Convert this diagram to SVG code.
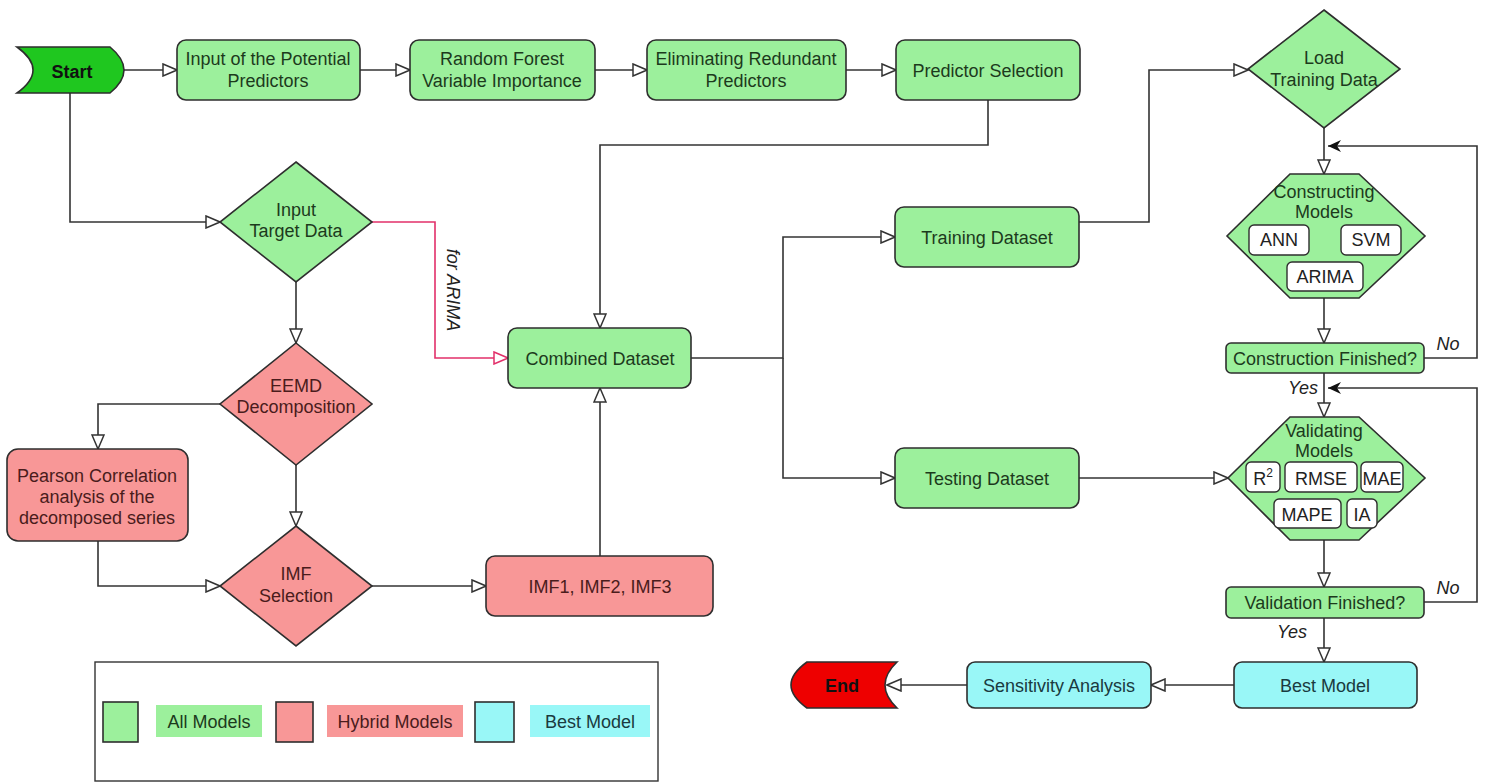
<svg xmlns="http://www.w3.org/2000/svg" width="1487" height="784" viewBox="0 0 1487 784">
<style>
  text { font-family: "Liberation Sans", Arial, sans-serif; font-size: 18px; text-anchor: middle; }
  .g { fill: #9cf09c; stroke: #2e2e2e; stroke-width: 1.6; }
  .r { fill: #f89797; stroke: #2e2e2e; stroke-width: 1.6; }
  .c { fill: #99f7f7; stroke: #2e2e2e; stroke-width: 1.6; }
  .w { fill: #ffffff; stroke: #2e2e2e; stroke-width: 1.4; }
  .tg { fill: #1c3a1c; }
  .tr { fill: #4a1c1c; }
  .tc { fill: #1a3a40; }
  .tk { fill: #222222; }
  .it { font-style: italic; fill: #222222; }
  .bold { font-weight: bold; fill: #111111; }
  .conn { fill: none; stroke: #333333; stroke-width: 1.6; }
  .red { fill: none; stroke: #e2306a; stroke-width: 1.6; }
</style>
<defs>
  <marker id="open" markerUnits="userSpaceOnUse" markerWidth="16" markerHeight="14" refX="15" refY="7" orient="auto">
    <path d="M1,1 L15,7 L1,13 Z" fill="#ffffff" stroke="#333333" stroke-width="1.5"/>
  </marker>
  <marker id="openred" markerUnits="userSpaceOnUse" markerWidth="16" markerHeight="14" refX="15" refY="7" orient="auto">
    <path d="M1,1 L15,7 L1,13 Z" fill="#ffffff" stroke="#e2306a" stroke-width="1.5"/>
  </marker>
  <marker id="filled" markerUnits="userSpaceOnUse" markerWidth="14" markerHeight="12" refX="13" refY="6" orient="auto">
    <path d="M0,0 L13,6 L0,12 L4,6 Z" fill="#111111"/>
  </marker>
</defs>
<rect width="1487" height="784" fill="#ffffff"/>

<g id="connectors">
  <path class="conn" d="M124,70 H177" marker-end="url(#open)"/>
  <path class="conn" d="M360,70 H410" marker-end="url(#open)"/>
  <path class="conn" d="M595,70 H647" marker-end="url(#open)"/>
  <path class="conn" d="M846,70 H896" marker-end="url(#open)"/>
  <path class="conn" d="M988,100 V145 H600 V328" marker-end="url(#open)"/>
  <path class="conn" d="M70,92 V222 H220" marker-end="url(#open)"/>
  <path class="red" d="M372,222 H435 V358 H508" marker-end="url(#openred)"/>
  <path class="conn" d="M296,282 V343" marker-end="url(#open)"/>
  <path class="conn" d="M220,404 H98 V449" marker-end="url(#open)"/>
  <path class="conn" d="M296,465 V526" marker-end="url(#open)"/>
  <path class="conn" d="M98,541 V586 H220" marker-end="url(#open)"/>
  <path class="conn" d="M372,586 H486" marker-end="url(#open)"/>
  <path class="conn" d="M600,556 V388" marker-end="url(#open)"/>
  <path class="conn" d="M691,358 H783 V237 H895" marker-end="url(#open)"/>
  <path class="conn" d="M783,358 V478 H895" marker-end="url(#open)"/>
  <path class="conn" d="M1079,222 H1149 V70 H1248" marker-end="url(#open)"/>
  <path class="conn" d="M1324,128 V174" marker-end="url(#open)"/>
  <path class="conn" d="M1324,298 V343" marker-end="url(#open)"/>
  <path class="conn" d="M1424,358 H1477 V146 H1328" marker-end="url(#filled)"/>
  <path class="conn" d="M1324,373 V417" marker-end="url(#open)"/>
  <path class="conn" d="M1079,478 H1228" marker-end="url(#open)"/>
  <path class="conn" d="M1324,540 V587" marker-end="url(#open)"/>
  <path class="conn" d="M1424,602 H1477 V388 H1328" marker-end="url(#filled)"/>
  <path class="conn" d="M1324,618 V662" marker-end="url(#open)"/>
  <path class="conn" d="M1234,685 H1151" marker-end="url(#open)"/>
  <path class="conn" d="M967,685 H887" marker-end="url(#open)"/>
  <text class="it" transform="translate(447,290) rotate(90)">for ARIMA</text>
  <text class="it" x="1303" y="394">Yes</text>
  <text class="it" x="1448" y="350">No</text>
  <text class="it" x="1448" y="594">No</text>
  <text class="it" x="1292" y="638">Yes</text>
</g>

<g id="start">
  <path d="M17,47 H110 Q138,70 110,93 H17 Q49,70 17,47 Z" fill="#1fc71f" stroke="#2e2e2e" stroke-width="1.6"/>
  <text class="bold" x="72" y="78">Start</text>
</g>
<g id="input-predictors">
  <rect class="g" x="177" y="40" width="183" height="60" rx="9"/>
  <text class="tg" x="268" y="65">Input of the Potential</text>
  <text class="tg" x="268" y="87">Predictors</text>
</g>
<g id="random-forest">
  <rect class="g" x="410" y="40" width="185" height="60" rx="9"/>
  <text class="tg" x="502" y="65">Random Forest</text>
  <text class="tg" x="502" y="87">Variable Importance</text>
</g>
<g id="eliminating">
  <rect class="g" x="647" y="40" width="199" height="60" rx="9"/>
  <text class="tg" x="746" y="65">Eliminating Redundant</text>
  <text class="tg" x="746" y="87">Predictors</text>
</g>
<g id="predictor-selection">
  <rect class="g" x="896" y="40" width="184" height="60" rx="9"/>
  <text class="tg" x="988" y="77">Predictor Selection</text>
</g>
<g id="input-target">
  <path class="g" d="M296,162 L372,222 L296,282 L220,222 Z"/>
  <text class="tg" x="296" y="216">Input</text>
  <text class="tg" x="296" y="237">Target Data</text>
</g>
<g id="eemd">
  <path class="r" d="M296,343 L372,404 L296,465 L220,404 Z"/>
  <text class="tr" x="296" y="392">EEMD</text>
  <text class="tr" x="296" y="413">Decomposition</text>
</g>
<g id="pearson">
  <rect class="r" x="7" y="449" width="181" height="92" rx="11"/>
  <text class="tr" x="97" y="482">Pearson Correlation</text>
  <text class="tr" x="97" y="503">analysis of the</text>
  <text class="tr" x="97" y="524">decomposed series</text>
</g>
<g id="imf-selection">
  <path class="r" d="M296,526 L372,586 L296,646 L220,586 Z"/>
  <text class="tr" x="296" y="580">IMF</text>
  <text class="tr" x="296" y="602">Selection</text>
</g>
<g id="imfs">
  <rect class="r" x="486" y="556" width="227" height="60" rx="9"/>
  <text class="tr" x="600" y="593">IMF1, IMF2, IMF3</text>
</g>
<g id="combined">
  <rect class="g" x="508" y="328" width="183" height="60" rx="9"/>
  <text class="tg" x="600" y="365">Combined Dataset</text>
</g>
<g id="training">
  <rect class="g" x="895" y="207" width="184" height="60" rx="9"/>
  <text class="tg" x="987" y="244">Training Dataset</text>
</g>
<g id="testing">
  <rect class="g" x="895" y="448" width="184" height="60" rx="9"/>
  <text class="tg" x="987" y="485">Testing Dataset</text>
</g>
<g id="load-training">
  <path class="g" d="M1324,10 L1400,69 L1324,128 L1248,69 Z"/>
  <text class="tg" x="1324" y="64">Load</text>
  <text class="tg" x="1324" y="86">Training Data</text>
</g>
<g id="constructing">
  <path class="g" d="M1290,174 H1359 L1425,236 L1359,298 H1290 L1227,236 Z"/>
  <text class="tg" x="1324" y="198">Constructing</text>
  <text class="tg" x="1324" y="218">Models</text>
  <rect class="w" x="1249" y="225" width="60" height="30" rx="5"/>
  <text class="tk" x="1279" y="246">ANN</text>
  <rect class="w" x="1341" y="225" width="60" height="30" rx="5"/>
  <text class="tk" x="1371" y="246">SVM</text>
  <rect class="w" x="1287" y="262" width="76" height="29" rx="5"/>
  <text class="tk" x="1325" y="283">ARIMA</text>
</g>
<g id="construction-finished">
  <rect class="g" x="1226" y="343" width="198" height="30" rx="5"/>
  <text class="tg" x="1325" y="365">Construction Finished?</text>
</g>
<g id="validating">
  <path class="g" d="M1290,417 H1359 L1425,478 L1359,540 H1290 L1228,478 Z"/>
  <text class="tg" x="1324" y="437">Validating</text>
  <text class="tg" x="1324" y="457">Models</text>
  <rect class="w" x="1246" y="462" width="34" height="30" rx="5"/>
  <text class="tk" x="1263" y="485">R<tspan dy="-8" style="font-size:12px">2</tspan></text>
  <rect class="w" x="1285" y="462" width="72" height="30" rx="5"/>
  <text class="tk" x="1321" y="485">RMSE</text>
  <rect class="w" x="1361" y="462" width="42" height="30" rx="5"/>
  <text class="tk" x="1382" y="485">MAE</text>
  <rect class="w" x="1274" y="499" width="67" height="29" rx="5"/>
  <text class="tk" x="1307" y="521">MAPE</text>
  <rect class="w" x="1347" y="499" width="30" height="29" rx="5"/>
  <text class="tk" x="1362" y="521">IA</text>
</g>
<g id="validation-finished">
  <rect class="g" x="1226" y="587" width="198" height="31" rx="5"/>
  <text class="tg" x="1325" y="609">Validation Finished?</text>
</g>
<g id="best-model">
  <rect class="c" x="1234" y="662" width="183" height="46" rx="8"/>
  <text class="tc" x="1325" y="692">Best Model</text>
</g>
<g id="sensitivity">
  <rect class="c" x="967" y="662" width="184" height="46" rx="8"/>
  <text class="tc" x="1059" y="692">Sensitivity Analysis</text>
</g>
<g id="end">
  <path d="M897,662 H807 Q775,685 807,708 H897 Q873,685 897,662 Z" fill="#ee0000" stroke="#2e2e2e" stroke-width="1.6"/>
  <text class="bold" x="842" y="692">End</text>
</g>
<g id="legend">
  <rect x="95" y="662" width="563" height="119" fill="#ffffff" stroke="#333333" stroke-width="1.4"/>
  <rect class="g" x="103" y="702" width="35" height="40"/>
  <rect x="156" y="705" width="106" height="32" fill="#9cf09c"/>
  <text class="tg" x="209" y="728">All Models</text>
  <rect class="r" x="276" y="702" width="37" height="40"/>
  <rect x="327" y="705" width="136" height="32" fill="#f89797"/>
  <text class="tr" x="395" y="728">Hybrid Models</text>
  <rect class="c" x="475" y="702" width="39" height="40"/>
  <rect x="530" y="705" width="120" height="32" fill="#99f7f7"/>
  <text class="tc" x="590" y="728">Best Model</text>
</g>
</svg>
